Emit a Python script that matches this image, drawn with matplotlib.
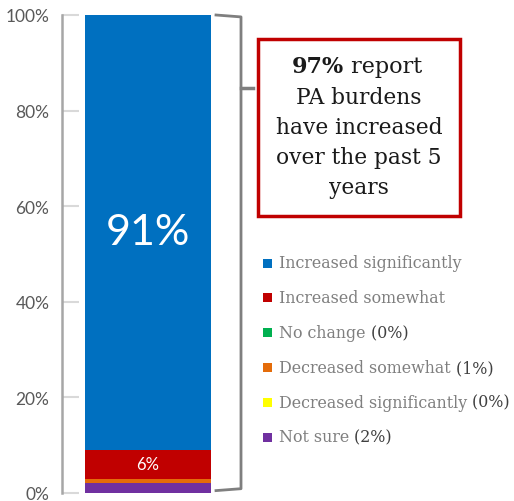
import matplotlib.pyplot as plt
from matplotlib.patches import Rectangle

labels = ['Increased significantly', 'Increased somewhat', 'No change',
          'Decreased somewhat', 'Decreased significantly', 'Not sure']
values = [91, 6, 0, 1, 0, 2]
pct_notes = ['', '', '(0%)', '(1%)', '(0%)', '(2%)']
colors = ['#0070C0', '#C00000', '#00B050', '#E46C0A', '#FFFF00', '#7030A0']
yticks = [0, 20, 40, 60, 80, 100]
callout = ['PA burdens', 'have increased', 'over the past 5', 'years']

W, H = 514, 502
fig = plt.figure(figsize=(W / 100, H / 100), dpi=100)

# axes placed in pixel terms: x 62..262, y 16..494 (from top)
ax = fig.add_axes([62 / W, (H - 494) / H, 200 / W, 478 / H])
ax.set_xlim(0, 1)
ax.set_ylim(0, 100)

# stack from bottom: reversed order, skip empty segments
bottom = 0
for lab, val, col in zip(labels[::-1], values[::-1], colors[::-1]):
    if val > 0:
        ax.bar(0.43, val, width=0.63, bottom=bottom, color=col, linewidth=0)
    bottom += val

ax.text(0.43, 100 - values[0] / 2, f'{values[0]}%', color='white',
        ha='center', va='center', fontsize=31, family='Lato')
ax.text(0.43, sum(values[2:]) + values[1] / 2,
        f'{values[1]}%', color='white', ha='center', va='center',
        fontsize=12, family='Lato')

for s in ['top', 'right', 'bottom']:
    ax.spines[s].set_visible(False)
ax.spines['left'].set_color('#A6A6A6')
ax.spines['left'].set_linewidth(1.8)
ax.set_xticks([])
ax.set_yticks(yticks)
ax.set_yticklabels([f'{t}%' for t in yticks], family='Lato', fontsize=12.5,
                   color='#595959')
ax.tick_params(axis='y', direction='in', length=12, width=1.5,
               color='#D9D9D9', pad=9)

# right bracket
ax.plot([0.77, 0.895, 0.895, 0.77], [100, 99.6, 0.9, 0.5],
        color='#7F7F7F', lw=2, clip_on=False)
ax.plot([0.895, 0.955], [84.8, 84.8], color='#7F7F7F', lw=2.5, clip_on=False)

# callout box
fig.patches.append(Rectangle((258 / W, (H - 217) / H), 202 / W, 177 / H,
                             transform=fig.transFigure, fill=False,
                             edgecolor='#C00000', lw=2.5))
t1 = fig.text(292 / W, (H - 67) / H, '97%', fontweight='bold', family='DejaVu Serif',
              fontsize=16, ha='left', va='center', color='#1a1a1a')
fig.canvas.draw()
bb = t1.get_window_extent()
fig.text(bb.x1 / W, (H - 67) / H, ' report', family='DejaVu Serif', fontsize=16,
         ha='left', va='center', color='#1a1a1a')
for i, line in enumerate(callout):
    fig.text(359 / W, (H - 98 - 30 * i) / H, line, family='DejaVu Serif',
             fontsize=15.7, ha='center', va='center', color='#1a1a1a')

# legend
for i, (lab, note, col) in enumerate(zip(labels, pct_notes, colors)):
    yc = H - 264 - 34.8 * i
    fig.patches.append(Rectangle((263 / W, (yc - 4.5) / H), 9 / W, 9 / H,
                                 transform=fig.transFigure, color=col, lw=0))
    t = fig.text(279 / W, yc / H, lab, family='DejaVu Serif', fontsize=11.4,
                 color='#7F7F7F', ha='left', va='center')
    if note:
        fig.canvas.draw()
        b = t.get_window_extent()
        fig.text(b.x1 / W, yc / H, ' ' + note, family='DejaVu Serif',
                 fontsize=11.4, color='#404040', ha='left', va='center')

fig.savefig('out.png', dpi=100)
